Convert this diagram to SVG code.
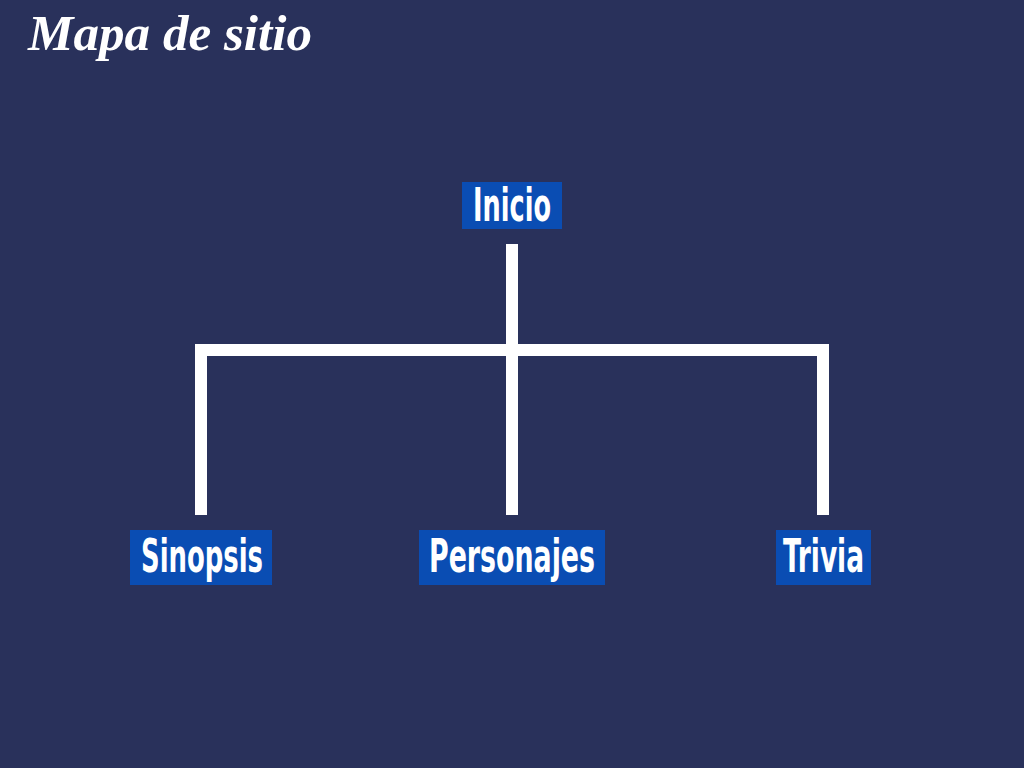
<svg xmlns="http://www.w3.org/2000/svg" width="1024" height="768" viewBox="0 0 1024 768">
<style>
.bg{fill:#29315B}
.box{fill:#0A4DB3}
.lbl{font-family:"Liberation Sans Narrow","DejaVu Sans Condensed","Liberation Sans",sans-serif;font-weight:bold;font-size:46px;fill:#FFFFFF}
.title{font-family:"Liberation Serif","DejaVu Serif",serif;font-weight:bold;font-style:italic;font-size:50px;fill:#FFFFFF}
.conn{fill:#FFFFFF}
</style>
<rect class="bg" x="0" y="0" width="1024" height="768"/>
<text class="title" x="28" y="50" textLength="284" lengthAdjust="spacingAndGlyphs">Mapa de sitio</text>
<g id="connectors">
<rect class="conn" x="506" y="244" width="12" height="271"/>
<rect class="conn" x="195" y="344" width="634" height="12"/>
<rect class="conn" x="195" y="344" width="12" height="171"/>
<rect class="conn" x="817" y="344" width="12" height="171"/>
</g>
<g id="inicio">
<rect class="box" x="462" y="182" width="100" height="47"/>
<text class="lbl" x="473" y="221" textLength="78" lengthAdjust="spacingAndGlyphs">Inicio</text>
</g>
<g id="sinopsis">
<rect class="box" x="130" y="530" width="142" height="55"/>
<text class="lbl" x="141" y="572" textLength="122" lengthAdjust="spacingAndGlyphs">Sinopsis</text>
</g>
<g id="personajes">
<rect class="box" x="419" y="530" width="186" height="55"/>
<text class="lbl" x="429" y="572" textLength="166" lengthAdjust="spacingAndGlyphs">Personajes</text>
</g>
<g id="trivia">
<rect class="box" x="776" y="530" width="95" height="55"/>
<text class="lbl" x="783" y="572" textLength="81" lengthAdjust="spacingAndGlyphs">Trivia</text>
</g>
</svg>
